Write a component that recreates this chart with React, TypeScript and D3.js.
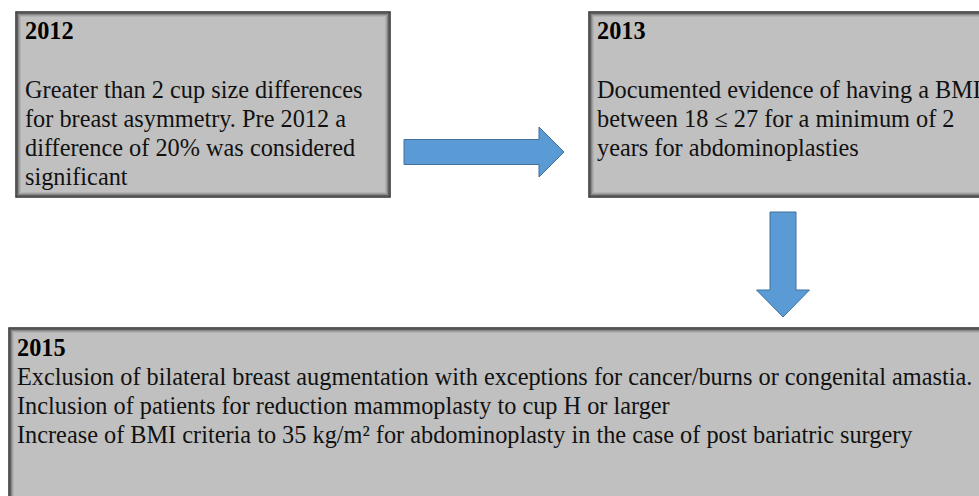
import React, { useEffect } from "react";
import * as d3 from "d3";

// box contents
const years = ["2012", "2013", "2015"];
const box2012Lines = [
  "Greater than 2 cup size differences",
  "for breast asymmetry. Pre 2012 a",
  "difference of 20% was considered",
  "significant",
];
const box2013Lines = [
  "Documented evidence of having a BMI",
  "between 18 \u2264 27 for a minimum of 2",
  "years for abdominoplasties",
];
const box2015Lines = [
  "Exclusion of bilateral breast augmentation with exceptions for cancer/burns or congenital amastia.",
  "Inclusion of patients for reduction mammoplasty to cup H or larger",
  "Increase of BMI criteria to 35 kg/m\u00b2 for abdominoplasty in the case of post bariatric surgery",
];

const W = 979;
const H = 496;
const LINE_H = 29;
const FONT_SIZE = 24.3;

// layout (pixels)
const boxes = [
  { x: 16, y: 12, w: 374, h: 185, titleY: 39, bodyY: 98, textX: 25, lines: box2012Lines },
  { x: 589, y: 12, w: 420, h: 185, titleY: 39, bodyY: 98, textX: 597, lines: box2013Lines },
  { x: 9, y: 328, w: 1000, h: 200, titleY: 356, bodyY: 385, textX: 17, lines: box2015Lines },
];

// inner shadow rings, outermost first
const shadeRings = [0.5, 0.3, 0.16, 0.07];

const line = d3.line();

function rightArrow(x0: number, x1: number, headX: number, cy: number, shaftH: number, headH: number) {
  const pts: [number, number][] = [
    [x0, cy - shaftH / 2],
    [headX, cy - shaftH / 2],
    [headX, cy - headH / 2],
    [x1, cy],
    [headX, cy + headH / 2],
    [headX, cy + shaftH / 2],
    [x0, cy + shaftH / 2],
  ];
  return line(pts) + "Z";
}

function downArrow(y0: number, y1: number, headY: number, cx: number, shaftW: number, headW: number) {
  const pts: [number, number][] = [
    [cx - shaftW / 2, y0],
    [cx + shaftW / 2, y0],
    [cx + shaftW / 2, headY],
    [cx + headW / 2, headY],
    [cx, y1],
    [cx - headW / 2, headY],
    [cx - shaftW / 2, headY],
  ];
  return line(pts) + "Z";
}

export default function App() {
  useEffect(() => {
    document.body.style.margin = "0";
    document.body.style.overflow = "hidden";
  }, []);

  return (
    <div style={{ fontFamily: '"Liberation Serif"' }}>
      <svg width={W} height={H} style={{ display: "block", background: "#fff" }}>
        {boxes.map((b, i) => (
          <g key={years[i]}>
            <rect x={b.x} y={b.y} width={b.w} height={b.h} fill="#c0c0c0" />
            {shadeRings.map((op, k) => (
              <rect
                key={k}
                x={b.x + 1.5 + k}
                y={b.y + 1.5 + k}
                width={b.w - 3 - 2 * k}
                height={b.h - 3 - 2 * k}
                fill="none"
                stroke="#000"
                strokeOpacity={op}
                strokeWidth={1}
              />
            ))}
            <rect x={b.x} y={b.y} width={b.w} height={b.h} fill="none" stroke="#2e2e2e" strokeWidth={1.5} />
            <text x={b.textX} y={b.titleY} fontSize={FONT_SIZE} fontWeight="bold" fill="#000">
              {years[i]}
            </text>
            {b.lines.map((t, j) => (
              <text key={j} x={b.textX} y={b.bodyY + j * LINE_H} fontSize={FONT_SIZE} fill="#111">
                {t}
              </text>
            ))}
          </g>
        ))}

        <path d={rightArrow(404, 564, 539, 152, 25, 50)} fill="#5b9bd5" stroke="#41719c" strokeWidth={1} />
        <path d={downArrow(212, 317, 290, 783, 26, 53)} fill="#5b9bd5" stroke="#41719c" strokeWidth={1} />
      </svg>
    </div>
  );
}
